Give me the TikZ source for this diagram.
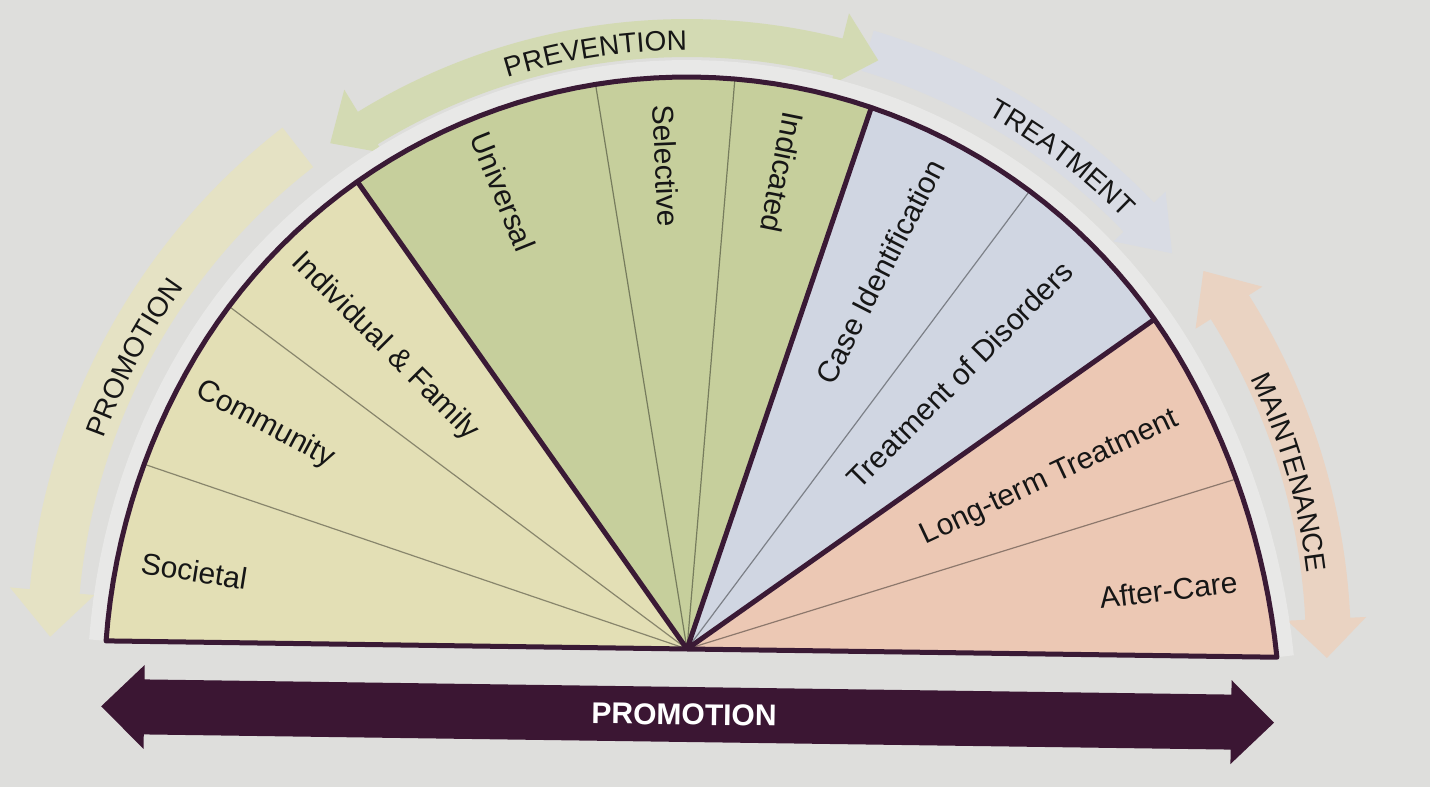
\documentclass[tikz,border=0pt]{standalone}
\usepackage{fontspec}
\setmainfont{Liberation Sans}
\usetikzlibrary{decorations.text}
\definecolor{bg}{HTML}{DEDEDC}
\definecolor{halo}{HTML}{E8E8E7}
\definecolor{cyel}{HTML}{E3DFB5}
\definecolor{cgrn}{HTML}{C6CF9C}
\definecolor{cblu}{HTML}{D0D6E2}
\definecolor{cpch}{HTML}{ECC8B4}
\definecolor{ink}{HTML}{3A1A35}
\definecolor{txt}{HTML}{161616}
\definecolor{bprev}{HTML}{D3DAB3}
\definecolor{btreat}{HTML}{D9DCE4}
\definecolor{bmaint}{HTML}{EAD3C2}
\definecolor{bprom}{HTML}{E5E2C4}
\definecolor{barrow}{HTML}{3B1633}
\newcommand\outfont{\fontsize{28}{30}\selectfont}
\begin{document}
\begin{tikzpicture}[x=1pt,y=1pt,
  lab/.style={font=\fontsize{30}{32}\selectfont, text=txt, inner sep=0pt, transform shape},
  divthin/.style={line width=1.2pt, draw=black, opacity=0.4},
  divthick/.style={line width=5pt, draw=ink},
  outtext/.style={decorate, decoration={text along path, text align=center, text={|\color{txt}\outfont|#1}}},
  declare function={rr(\t)=572+9*(max(0,\t-150)/30)^2+18*(max(0,30-\t)/30)^2;}
]
\useasboundingbox (0,0) rectangle (1430,787);
\fill[bg] (0,0) rectangle (1430,787);
\begin{scope}[shift={(687,138)}, rotate=-0.8]
  % outer curved arrows
  \fill[bprom] (128.6:610) arc[start angle=128.6, end angle=175.6, radius=610]
     -- (175.6:595) -- (179.7:637) -- (175.6:680) -- (175.6:660)
     arc[start angle=175.6, end angle=128.6, radius=660] -- cycle;
  \fill[bmaint] (33:619) arc[start angle=33, end angle=3.5, radius=619]
     -- (3.5:601) -- (0:640) -- (3.5:680) -- (3.5:664)
     arc[start angle=3.5, end angle=33, radius=664]
     -- (33:680) -- (37:640) -- (33:601) -- cycle;
  \fill[btreat] (74:604) arc[start angle=74, end angle=44.5, radius=604]
     -- (44.5:590) -- (40:626) -- (44.5:662) -- (44.5:646)
     arc[start angle=44.5, end angle=74, radius=646] -- cycle;
  \fill[bprev] (122.3:592) arc[start angle=122.3, end angle=76.5, radius=592]
     -- (76.5:582) -- (72.8:619) -- (76.5:656) -- (76.5:630)
     arc[start angle=76.5, end angle=122.3, radius=630]
     -- (122.3:656) -- (126:619) -- (122.3:582) -- cycle;
  % outer labels
  \path[outtext=PREVENTION] (117:599) arc[start angle=117, end angle=82, radius=599];
  \path[outtext=TREATMENT] (73.4:613) arc[start angle=73.4, end angle=33.4, radius=613];
  \path[outtext=MAINTENANCE] (39.1:625) arc[start angle=39.1, end angle=-4.9, radius=625];
  \path[outtext=PROMOTION] (175:620) arc[start angle=175, end angle=131, radius=620];
  % halo round the arc, kept above the base line
  \begin{scope}
    \clip (-800,0) rectangle (800,800);
    \draw[halo, line width=34pt] plot[domain=180:0, samples=91] (\x:{rr(\x)});
  \end{scope}
  % sectors
  \begin{scope}
    \clip (0,0) -- plot[domain=180:0, samples=91] (\x:{rr(\x)}) -- cycle;
    \fill[cyel] (0,0) -- (180:900) -- (153:900) -- (126:900) -- cycle;
    \fill[cgrn] (0,0) -- (126:900) -- (99:900) -- (72:900) -- cycle;
    \fill[cblu] (0,0) -- (72:900) -- (54:900) -- (36:900) -- cycle;
    \fill[cpch] (0,0) -- (36:900) -- (18:900) -- (0:900) -- cycle;
    \foreach \a in {162,144,100,86,54,18} \draw[divthin] (0,0) -- (\a:900);
    \foreach \a in {126,72,36} \draw[divthick] (0,0) -- (\a:900);
  \end{scope}
  \draw[divthick, line join=round] (0,0) -- plot[domain=180:0, samples=91] (\x:{rr(\x)}) -- cycle;
  % sector labels
  \node[lab, rotate=-8.2]   (soc) at (171.8:499) {Societal};
  \node[lab, rotate=-27.2]  (com) at (152.8:478) {Community};
  \node[lab, rotate=-44.2]  (ind) at (135.8:427) {Individual \& Family};
  \node[lab, rotate=-67.3]  (uni) at (112.7:493) {Universal};
  \node[lab, rotate=-86.7]  (sel) at (93.3:484) {Selective};
  \node[lab, rotate=-100.5] (ica) at (79.5:486) {Indicated};
  \node[lab, rotate=63.7]   (cid) at (63.7:424) {Case Identification};
  \node[lab, rotate=46]     (tod) at (46:387) {Treatment of Disorders};
  \node[lab, rotate=26]     (ltt) at (26:401) {Long-term Treatment};
  \node[lab, rotate=7.8]    (aft) at (7.8:485) {After-Care};
  % bottom arrow
  \fill[barrow] (-585,-65.5) -- (-542,-23.5) -- (-542,-38) -- (545,-38) -- (545,-23.5)
     -- (588,-65.5) -- (545,-107.5) -- (545,-93) -- (-542,-93) -- (-542,-107.5) -- cycle;
  \node[font=\bfseries\fontsize{30}{32}\selectfont, text=white, inner sep=0pt, transform shape] (promo) at (-2,-65.5) {PROMOTION};
\end{scope}
\end{tikzpicture}
\end{document}
